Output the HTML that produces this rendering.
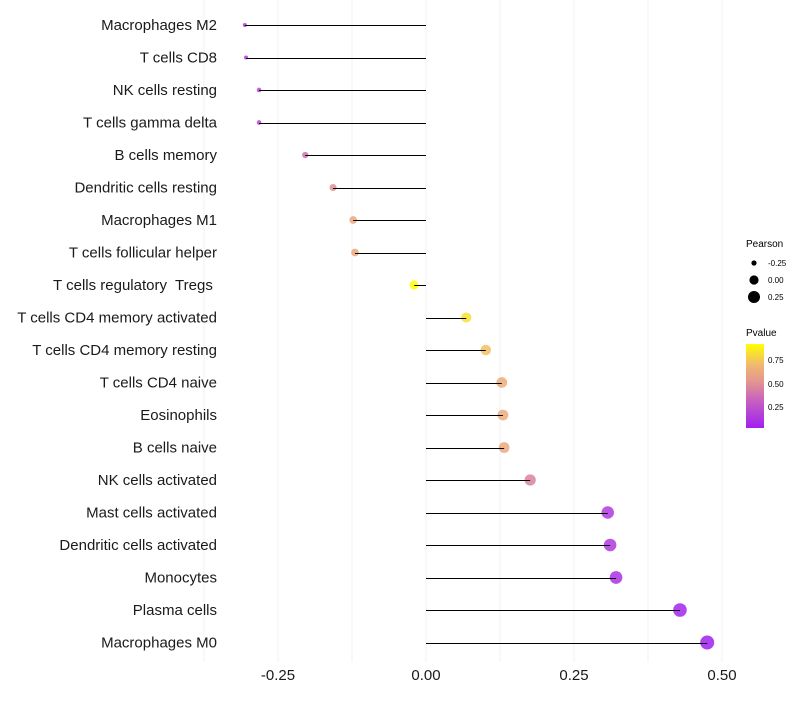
<!DOCTYPE html>
<html><head><meta charset="utf-8"><style>
body{margin:0;background:#fff;font-family:"Liberation Sans",sans-serif}
svg text{font-family:"Liberation Sans",sans-serif;white-space:pre}
</style></head><body>
<svg id="chart" width="800" height="700">
<defs><linearGradient id="pg" x1="0" y1="1" x2="0" y2="0">
<stop offset="0" stop-color="#A020F0"/><stop offset="0.33" stop-color="#C860C0"/><stop offset="0.55" stop-color="#E39590"/><stop offset="0.75" stop-color="#F0B870"/><stop offset="1" stop-color="#FFFF00"/></linearGradient></defs>
<g id="grid"></g><g id="marks"></g><g id="ylab"></g><g id="xlab"></g>
<g>
<text x="746" y="247" font-size="10">Pearson</text>
<circle cx="754" cy="263" r="2.6" fill="#000"/>
<text x="768" y="266" font-size="8">-0.25</text>
<circle cx="754" cy="280" r="4.6" fill="#000"/>
<text x="768" y="283" font-size="8">0.00</text>
<circle cx="754" cy="297" r="6" fill="#000"/>
<text x="768" y="300" font-size="8">0.25</text>
<text x="746" y="336" font-size="10">Pvalue</text>
<rect x="746" y="344" width="18" height="84" fill="url(#pg)"/>
<text x="768" y="363" font-size="8">0.75</text>
<text x="768" y="387" font-size="8">0.50</text>
<text x="768" y="410" font-size="8">0.25</text>
</g>
</svg>
<script>
const categories=["Macrophages M2","T cells CD8","NK cells resting","T cells gamma delta","B cells memory","Dendritic cells resting","Macrophages M1","T cells follicular helper","T cells regulatory  Tregs ","T cells CD4 memory activated","T cells CD4 memory resting","T cells CD4 naive","Eosinophils","B cells naive","NK cells activated","Mast cells activated","Dendritic cells activated","Monocytes","Plasma cells","Macrophages M0"];
const pearson=[-0.306,-0.304,-0.282,-0.282,-0.204,-0.157,-0.123,-0.12,-0.02,0.068,0.101,0.128,0.13,0.132,0.176,0.307,0.311,0.321,0.429,0.475];
const pvalues=[0.15,0.15,0.2,0.2,0.38,0.5,0.62,0.62,0.92,0.82,0.72,0.64,0.63,0.62,0.45,0.14,0.14,0.1,0.05,0.03];
const xTicks=[-0.25,0,0.25,0.5];
const xTickLabels=["-0.25","0.00","0.25","0.50"];
const NS="http://www.w3.org/2000/svg";
const x=v=>426+v*592;
const y=i=>25+i*32.5;
const stops=[[0,[160,32,240]],[0.33,[200,96,192]],[0.55,[227,149,144]],[0.75,[240,184,112]],[1,[255,255,0]]];
function col(p){let t=(p-0.027)/(0.92-0.027);t=Math.max(0,Math.min(1,t));
for(let k=1;k<stops.length;k++){if(t<=stops[k][0]){const a=stops[k-1],b=stops[k],f=(t-a[0])/(b[0]-a[0]);
return 'rgb('+a[1].map((c,j)=>Math.round(c+(b[1][j]-c)*f)).join(',')+')';}}return 'rgb(255,255,0)';}
const rad=v=>Math.sqrt(Math.max(1,4+(v+0.306)*57.6));
function mk(tag,attrs,parent){const e=document.createElementNS(NS,tag);for(const k in attrs)e.setAttribute(k,attrs[k]);document.getElementById(parent).appendChild(e);return e;}
for(let g=-0.375;g<=0.5001;g+=0.125){
const l=mk('line',{x1:x(g),x2:x(g),y1:0,y2:662,stroke:'#f0f0f0','stroke-width':1},'grid');

}
categories.forEach((c,i)=>{
const d=mk('circle',{cx:x(pearson[i]),cy:y(i),r:rad(pearson[i]),fill:col(pvalues[i]),'fill-opacity':0.85},'marks');


const s=mk('line',{x1:x(0),x2:x(pearson[i]),y1:Math.round(y(i))+0.5,y2:Math.round(y(i))+0.5,stroke:'#000','stroke-width':1},'marks');


const t=mk('text',{x:217,y:y(i)+5,'text-anchor':'end','font-size':15,fill:'#1a1a1a'},'ylab');
t.textContent=c;

});
xTicks.forEach((v,i)=>{const t=mk('text',{x:x(v),y:680,'text-anchor':'middle','font-size':15,fill:'#1a1a1a'},'xlab');
t.textContent=xTickLabels[i];

});
</script>
</body></html>
